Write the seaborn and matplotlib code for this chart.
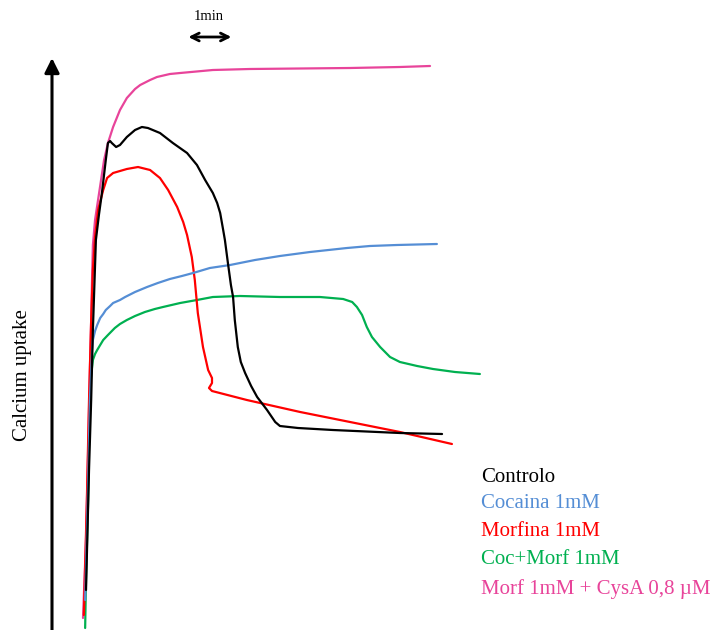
import matplotlib
matplotlib.use("Agg")
import matplotlib.pyplot as plt
import numpy as np
import pandas as pd
import seaborn as sns

# Time in minutes after addition, uptake in arbitrary units
controlo_t = [0.07, 0.14, 0.19, 0.23, 0.30, 0.37, 0.44, 0.53, 0.58, 0.63, 0.67, 0.77, 0.86,
              1.02, 1.21, 1.37, 1.51, 1.79, 2.09, 2.42, 2.65, 2.84, 3.02, 3.12, 3.19, 3.26,
              3.30, 3.37, 3.44, 3.49, 3.53, 3.60, 3.67, 3.77, 3.91, 4.05, 4.28, 4.47, 4.58,
              5.00, 5.81, 7.37, 8.35]
controlo_u = [40, 160, 230, 300, 390, 415, 437, 470, 487, 489, 487, 483, 485,
              493, 500, 503, 502, 497, 487, 477, 465, 450, 437, 427, 417, 400,
              390, 367, 345, 333, 310, 283, 268, 257, 244, 233, 220, 208, 204,
              202, 200, 197, 196]

cocaina_t = [0.05, 0.12, 0.16, 0.21, 0.23, 0.28, 0.33, 0.40, 0.47, 0.53, 0.63, 0.70,
             0.86, 0.98, 1.21, 1.49, 1.74, 2.02, 2.30, 2.56, 2.95, 3.42, 4.00, 4.58,
             5.28, 6.14, 6.67, 7.30, 8.23]
cocaina_u = [30, 150, 230, 280, 290, 299, 305, 312, 316, 320, 324, 327,
             330, 333, 338, 343, 347, 351, 354, 357, 362, 365, 370, 374,
             378, 382, 384, 385, 386]

morfina_t = [0.02, 0.09, 0.14, 0.19, 0.23, 0.28, 0.35, 0.47, 0.56, 0.70, 1.02, 1.28,
             1.56, 1.79, 1.98, 2.19, 2.33, 2.42, 2.53, 2.60, 2.67, 2.79, 2.91, 3.00,
             3.00, 2.93, 3.00, 3.81, 5.05, 7.37, 8.58]
morfina_u = [15, 130, 230, 310, 360, 393, 420, 440, 452, 457, 461, 463,
             460, 452, 440, 423, 408, 395, 373, 350, 317, 283, 260, 252,
             247, 242, 239, 230, 218, 198, 186]

cocmorf_t = [0.05, 0.07, 0.12, 0.14, 0.16, 0.19, 0.23, 0.28, 0.33, 0.40, 0.47, 0.58,
             0.74, 0.86, 1.02, 1.21, 1.44, 1.67, 1.86, 2.26, 2.65, 3.02, 3.65, 4.58,
             5.51, 6.05, 6.26, 6.37, 6.49, 6.60, 6.72, 6.91, 7.14, 7.37, 7.77, 8.14,
             8.65, 9.23]
cocmorf_u = [2, 50, 130, 190, 235, 255, 270, 276, 280, 285, 290, 295,
             302, 306, 310, 314, 318, 321, 323, 327, 330, 333, 334, 333,
             333, 331, 328, 323, 315, 303, 293, 283, 273, 268, 264, 261,
             258, 256]

cysa_t = [0.00, 0.07, 0.12, 0.16, 0.19, 0.21, 0.23, 0.28, 0.35, 0.42, 0.49, 0.58,
          0.70, 0.86, 1.02, 1.21, 1.33, 1.56, 1.72, 2.02, 2.26, 3.02, 3.88, 5.05,
          6.21, 7.37, 8.07]
cysa_u = [12, 90, 180, 260, 310, 350, 385, 410, 430, 450, 470, 487,
          503, 520, 532, 541, 545, 550, 553, 556, 557, 560, 561, 561.5,
          562, 563, 564]

labels = ["Controlo", "Cocaina 1mM", "Morfina 1mM", "Coc+Morf 1mM",
          "Morf 1mM + CysA 0,8 \u00b5M"]
colors = ["#000000", "#558ED5", "#FF0000", "#00B050", "#E8449A"]

series = [(controlo_t, controlo_u), (cocaina_t, cocaina_u), (morfina_t, morfina_u),
          (cocmorf_t, cocmorf_u), (cysa_t, cysa_u)]
frames = []
for lab, (t, u) in zip(labels, series):
    frames.append(pd.DataFrame({"time": t, "uptake": u, "condition": lab}))
df = pd.concat(frames, ignore_index=True)

sns.set_style("white")
plt.rcParams["font.family"] = ["Liberation Serif", "DejaVu Serif"]

fig = plt.figure(figsize=(7.14, 6.3), dpi=100)
ax = fig.add_axes([0, 0, 1, 1])

# draw in reverse so the control trace sits on top
draw_order = labels[::-1]
sns.lineplot(data=df, x="time", y="uptake", hue="condition", hue_order=draw_order,
             palette=dict(zip(labels, colors)), sort=False, estimator=None,
             units="condition", legend=False, linewidth=1.6,
             solid_joinstyle="round", solid_capstyle="round", ax=ax)

ax.set_xlim(-83 / 43, (714 - 83) / 43)
ax.set_ylim(0, 630)
ax.axis("off")

# vertical uptake axis drawn as an arrow
ax_x = (52 - 83) / 43
ax.annotate("", xy=(ax_x, 572), xytext=(ax_x, 0),
            arrowprops=dict(arrowstyle="-|>", lw=2.2, color="black",
                            mutation_scale=22, shrinkA=0, shrinkB=0))
ax.text((23 - 83) / 43, 255, "Calcium uptake", rotation=90, ha="center",
        va="center", fontsize=15, color="black")

# 1 min time scale bar
ax.annotate("", xy=(3.45, 593), xytext=(2.45, 593),
            arrowprops=dict(arrowstyle="<->", lw=2.0, color="black",
                            mutation_scale=14, shrinkA=0, shrinkB=0))
ax.text(2.92, 614, "1min", ha="center", va="center", fontsize=10.5, color="black")

# coloured labels naming each trace
label_y = [153, 126, 99, 71, 41]
for lab, col, yy in zip(labels, colors, label_y):
    ax.text((481 - 83) / 43, yy, lab, ha="left", va="center", fontsize=15, color=col)

fig.savefig("out.png", dpi=100)
